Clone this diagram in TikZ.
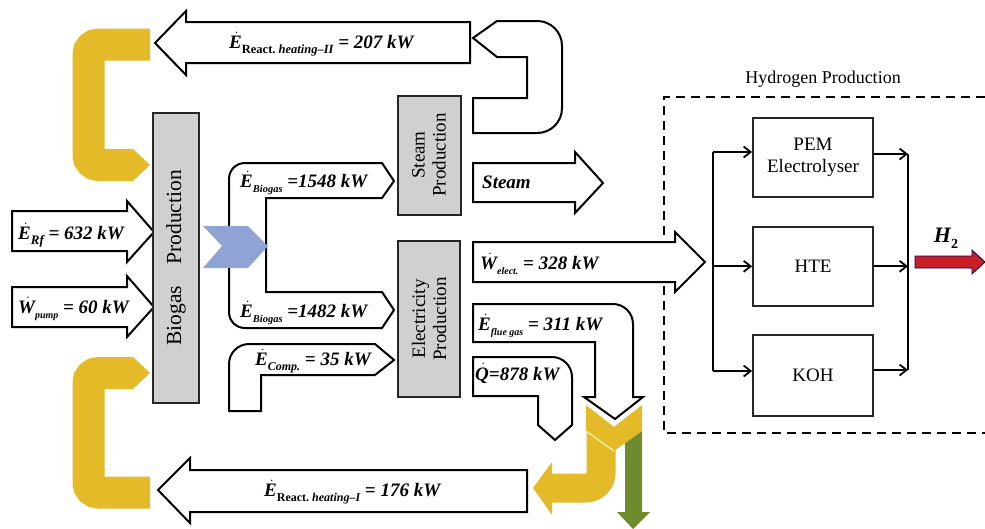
\documentclass[tikz,border=0pt]{standalone}
\usepackage{fontspec}
\setmainfont{Liberation Serif}
\usepackage{tikz}
\usetikzlibrary{arrows.meta, positioning}
\definecolor{heatyellow}{RGB}{228,186,41}
\definecolor{lossgreen}{RGB}{110,140,45}
\definecolor{gasblue}{RGB}{143,164,212}
\definecolor{boxgray}{RGB}{208,208,208}
\definecolor{hred}{RGB}{200,30,36}
\newcommand{\fdot}[1]{\ensuremath{\dot{\mbox{#1\kern0.14em}}}\kern-0.14em}
\newcommand{\flsub}[2][10]{\raisebox{-0.28em}{\fontsize{#1}{#1}\selectfont #2}}
\tikzset{
  flow/.style={draw=black, fill=white, line width=2pt, line join=miter},
  procbox/.style={rectangle, draw=black!85, fill=boxgray, line width=2pt,
                  align=center, inner sep=2pt, font=\fontsize{19}{21}\selectfont},
  h2box/.style={rectangle, draw=black!85, line width=1.8pt, minimum width=120pt,
                minimum height=79pt, align=center, font=\fontsize{19}{22}\selectfont},
  conn/.style={-{Straight Barb[length=7pt,width=11pt]}, draw=black, line width=1.8pt},
  link/.style={draw=black, line width=1.8pt},
  flowlbl/.style={anchor=base west, inner sep=0pt, font=\fontsize{19}{22}\selectfont\bfseries\itshape},
  heatband/.style={draw=heatyellow, line width=32pt, rounded corners=10pt},
}

\begin{document}
\begin{tikzpicture}[x=1pt, y=-1pt]
  \useasboundingbox (0,0) rectangle (985,528);

  % Heat loops (yellow)
  \draw[heatband] (150,44.5) -- (88.5,44.5) -- (88.5,165) -- (133,165);
  \fill[heatyellow] (133,149) -- (150,165) -- (133,181) -- cycle;
  \draw[heatband] (150,492.5) -- (88.5,492.5) -- (88.5,373) -- (133,373);
  \fill[heatyellow] (133,357) -- (150,373) -- (133,389) -- cycle;

  % Reaction heating arrows
  \draw[flow] (155,43) -- (186,11) -- (186,22) -- (470,22) -- (470,63) -- (186,63) -- (186,75) -- cycle;
  \draw[flow] (473,38) -- (497,21) -- (537,21) .. controls (551,21) and (562,32) .. (562,46)
    -- (562,108) .. controls (562,122) and (551,133) .. (537,133) -- (473,133) -- (473,98)
    -- (527,98) -- (527,57) -- (497,57) -- cycle;
  \draw[flow] (158,490) -- (190,458) -- (190,470) -- (527,470) -- (527,512) -- (190,512) -- (190,523) -- cycle;
  \node[flowlbl] (lblheat2) at (229,48) {\fdot{E}\flsub[12.5]{\upshape React.\ \itshape heating--II} = 207 kW};
  \node[flowlbl] (lblheat1) at (264,496) {\fdot{E}\flsub[12]{\upshape React.\ \itshape heating--I} = 176 kW};

  % Inputs
  \draw[flow] (12,211) -- (127,211) -- (127,201) -- (154,232) -- (127,262) -- (127,251) -- (12,251) -- cycle;
  \draw[flow] (12,287) -- (127,287) -- (127,276) -- (154,307) -- (127,337) -- (127,327) -- (12,327) -- cycle;
  \node[flowlbl] (lblrf) at (18,239) {\fdot{E}\flsub[13]{Rf} = 632 kW};
  \node[flowlbl] (lblpump) at (18,313) {\fdot{W}\flsub[10]{pump} = 60 kW};

  % Biogas split
  \draw[flow] (229,250) -- (229,179) .. controls (229,170) and (236,163) .. (245,163) -- (382,163)
    -- (394,181) -- (382,198) -- (266,198) -- (266,292) -- (382,292) -- (394,310) -- (382,328)
    -- (245,328) .. controls (236,328) and (229,321) .. (229,312) -- cycle;
  \fill[gasblue] (203,226) -- (248,226) -- (268,246) -- (248,268) -- (203,268) -- (222,246) -- cycle;
  \node[flowlbl] (lblgas1) at (240,187) {\fdot{E}\flsub[10.5]{Biogas} =1548 kW};
  \node[flowlbl] (lblgas2) at (240,317) {\fdot{E}\flsub[10.5]{Biogas} =1482 kW};
  \draw[flow] (229,411) -- (229,364) .. controls (229,353) and (238,344) .. (249,344) -- (375,344)
    -- (394,360) -- (375,375) -- (261,375) -- (261,411) -- cycle;
  \node[flowlbl] (lblcomp) at (255,365) {\fdot{E}\flsub[12]{Comp.} = 35 kW};

  % Outputs
  \draw[flow] (473,163) -- (575,163) -- (575,152) -- (603,183) -- (575,213) -- (575,202) -- (473,202) -- cycle;
  \node[flowlbl] (lblsteam) at (482,188) {Steam};
  \draw[link, dashed, dash pattern=on 9pt off 6pt] (985,97) -- (664,97) -- (664,433) -- (985,433);
  \draw[flow] (473,242) -- (675,242) -- (675,232) -- (705,262) -- (675,292) -- (675,282) -- (473,282) -- cycle;
  \node[flowlbl] (lblelect) at (480,269) {\fdot{W}\flsub[10]{elect.} = 328 kW};

  % Flue gas and heat losses
  \draw[heatband, line width=29pt, rounded corners=15pt] (601,430) -- (601,488) -- (552,488);
  \fill[heatyellow] (552,462) -- (533,488) -- (552,515) -- cycle;
  \fill[lossgreen] (625,431) -- (642,431) -- (642,512) -- (650,512) -- (633,529) -- (617,512) -- (625,512) -- cycle;
  \fill[heatyellow] (586,405) -- (614,427) -- (642,405) -- (642,431) -- (614,451) -- (586,431) -- cycle;
  \draw[yellow!35, line width=1.2pt] (586,431) -- (614,451);
  \draw[flow] (473,304) -- (613,304) .. controls (624,304) and (633,313) .. (633,324) -- (633,397)
    -- (643,397) -- (615,419) -- (584,397) -- (595,397) -- (595,342) -- (473,342) -- cycle;
  \node[flowlbl] (lblflue) at (478,330) {\fdot{E}\flsub[10]{flue gas} = 311 kW};
  \draw[flow] (473,357) -- (552,357) .. controls (563,357) and (572,366) .. (572,377) -- (572,425)
    -- (555,440) -- (538,425) -- (538,396) -- (473,396) -- cycle;
  \node[flowlbl] (lblq) at (475,380) {\fdot{Q}=878 kW};

  % Process blocks
  \node[procbox, minimum width=290pt, minimum height=46pt, rotate=90, font=\fontsize{21.5}{23}\selectfont]
    (biogas) at (176,258) {Biogas\quad Production};
  \node[procbox, minimum width=119pt, minimum height=63pt, rotate=90] (steam) at (429,155) {Steam\\Production};
  \node[procbox, minimum width=156pt, minimum height=62pt, rotate=90] (elec) at (429,319) {Electricity\\Production};

  % Hydrogen production
  \node[font=\fontsize{18}{20}\selectfont] (h2title) at (823,79) {Hydrogen Production};
  \node[h2box] (pem) at (813,157.5) {PEM\\Electrolyser};
  \node[h2box, below=28pt of pem] (hte) {HTE};
  \node[h2box, below=27pt of hte, minimum height=81pt] (koh) {KOH};
  \coordinate (jl1) at (713,152);
  \coordinate (jl3) at (713,371);
  \coordinate (jr1) at (908,154);
  \coordinate (jr3) at (908,370);
  \draw[link] (jl1) -- (jl3);
  \draw[conn] (jl1) -- (jl1 -| pem.west);
  \draw[conn] (jl1 |- hte) -- (hte.west);
  \draw[conn] (jl3) -- (jl3 -| koh.west);
  \draw[conn] (pem.east |- jr1) -- (jr1);
  \draw[conn] (hte.east) -- (hte -| jr1);
  \draw[conn] (koh.east |- jr3) -- (jr3);
  \draw[link] (jr1) -- (jr3);
  \draw[fill=hred, draw=blue!40!black, line width=0.8pt] (915,256) -- (972,256) -- (972,250) -- (985,262)
    -- (972,274) -- (972,268) -- (915,268) -- cycle;
  \node[font=\fontsize{22}{24}\selectfont\bfseries\itshape] (h2lbl) at (946,238) {H\flsub[14]{\upshape 2}};
\end{tikzpicture}
\end{document}
